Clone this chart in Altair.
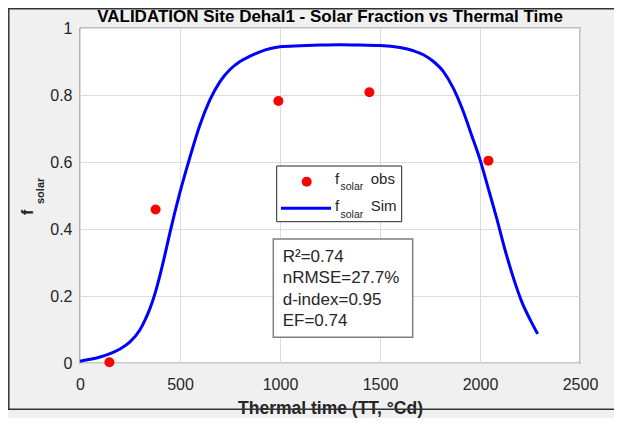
import altair as alt
import pandas as pd

# ---------------- data ----------------
obs_tt = [147, 378, 992, 1447, 2042]
obs_f = [0.002, 0.458, 0.782, 0.808, 0.604]

sim_tt = [0, 50, 100, 150, 200, 250, 300, 325, 350, 375, 400, 425, 450, 475,
          500, 525, 550, 600, 650, 700, 750, 800, 850, 900, 1000, 1100, 1200,
          1300, 1400, 1500, 1600, 1667, 1717, 1767, 1817, 1867, 1917, 1958,
          2000, 2042, 2083, 2125, 2167, 2208, 2250, 2288]
sim_f = [0.005, 0.011, 0.018, 0.028, 0.042, 0.063, 0.099, 0.128, 0.163, 0.207,
         0.262, 0.324, 0.390, 0.452, 0.510, 0.564, 0.615, 0.711, 0.786, 0.840,
         0.876, 0.900, 0.916, 0.929, 0.944, 0.947, 0.949, 0.950, 0.949, 0.948,
         0.942, 0.932, 0.920, 0.900, 0.870, 0.820, 0.750, 0.680, 0.607, 0.520,
         0.433, 0.338, 0.254, 0.184, 0.130, 0.087]

x_ticks = [0, 500, 1000, 1500, 2000, 2500]
y_ticks = [0, 0.2, 0.4, 0.6, 0.8, 1]

title_text = "VALIDATION Site Dehal1 - Solar Fraction vs Thermal Time"
x_title = "Thermal time (TT, \u00b0Cd)"
stats_lines = ["R\u00b2=0.74", "nRMSE=27.7%", "d-index=0.95", "EF=0.74"]

obs_df = pd.DataFrame({"tt": obs_tt, "f": obs_f})
sim_df = pd.DataFrame({"tt": sim_tt, "f": sim_f})
one = pd.DataFrame({"k": [0]})

FONT = "Liberation Sans"
TXT = "#262626"
W, H = 500, 335

xs = alt.Scale(domain=[0, 2500], nice=False)
ys = alt.Scale(domain=[0, 1], nice=False)

x_axis = alt.Axis(values=x_ticks, format="d", ticks=False, domain=False,
                  grid=True, gridColor="#dcdcdc", gridWidth=1,
                  labelFontSize=16, labelColor=TXT, labelFont=FONT,
                  labelPadding=13, labelFlush=False,
                  title=x_title, titleFont=FONT, titleFontSize=17.5,
                  titleFontWeight="bold", titleColor=TXT, titlePadding=7)
y_axis = alt.Axis(values=y_ticks, format="~g", ticks=False, domain=False,
                  grid=True, gridColor="#dcdcdc", gridWidth=1,
                  labelFontSize=16, labelColor=TXT, labelFont=FONT,
                  labelPadding=8, labelFlush=False)

sim_line = alt.Chart(sim_df).mark_line(color="#0000ff", strokeWidth=3,
                                       interpolate="monotone").encode(
    x=alt.X("tt:Q", scale=xs, axis=x_axis),
    y=alt.Y("f:Q", scale=ys, axis=y_axis, title=None),
)
obs_pts = alt.Chart(obs_df).mark_point(filled=True, shape="circle", size=100,
                                       color="#ff0000", opacity=1).encode(
    x=alt.X("tt:Q", scale=xs),
    y=alt.Y("f:Q", scale=ys),
)


def label(text, x, y, size, weight="normal", angle=0, align="left", color=TXT):
    return alt.Chart(one).mark_text(text=text, fontSize=size, fontWeight=weight,
                                    angle=angle, align=align,
                                    baseline="alphabetic", font=FONT,
                                    color=color).encode(
        x=alt.value(x), y=alt.value(y))


def box(x1, x2, y1, y2, stroke, sw):
    return alt.Chart(one).mark_rect(fill="white", stroke=stroke,
                                    strokeWidth=sw).encode(
        x=alt.value(x1), x2=alt.value(x2), y=alt.value(y1), y2=alt.value(y2))


layers = [sim_line, obs_pts]

# title
layers.append(label(title_text, W / 2, -6, 17, "bold", align="center",
                    color="#000000"))
# y-axis title f_solar
layers.append(label("f", -47, 187, 16, "bold", angle=270))
layers.append(label("solar", -36.5, 176, 11, "bold", angle=270))

# legend
layers.append(box(196.7, 321.7, 138, 193.7, "#262626", 1))
layers.append(alt.Chart(one).mark_point(filled=True, shape="circle", size=100,
                                        color="#ff0000", opacity=1).encode(
    x=alt.value(226.7), y=alt.value(153.7)))
layers.append(alt.Chart(one).mark_rule(color="#0000ff", strokeWidth=3).encode(
    x=alt.value(201), x2=alt.value(251), y=alt.value(180.3)))
layers.append(label("f", 255, 156, 15))
layers.append(label("solar", 260.5, 162, 10.5))
layers.append(label("obs", 290.7, 156, 15))
layers.append(label("f", 255, 183, 15))
layers.append(label("solar", 260.5, 190, 10.5))
layers.append(label("Sim", 290.7, 183, 15))

# stats box
layers.append(box(193.3, 332.7, 211, 309.3, "#7f7f7f", 1.5))
for i, s in enumerate(stats_lines):
    layers.append(label(s, 202.7, 233.7 + i * 21.5, 17))

# figure border
layers.append(alt.Chart(one).mark_rule(color="#333333", strokeWidth=1.5).encode(
    x=alt.value(-71.2), y=alt.value(-19.5), y2=alt.value(381.5)))
layers.append(alt.Chart(one).mark_rule(color="#333333", strokeWidth=1.5).encode(
    x=alt.value(-72), x2=alt.value(534), y=alt.value(-19.2)))
layers.append(alt.Chart(one).mark_rule(color="#333333", strokeWidth=1.5).encode(
    x=alt.value(-72), x2=alt.value(534), y=alt.value(381.2)))

chart = alt.layer(*layers).properties(
    width=W, height=H,
    autosize=alt.AutoSizeParams(type="none"),
    padding={"left": 72, "top": 20, "right": 34, "bottom": 55},
).configure(background="#f0f0f0").configure_view(
    fill="white", stroke="#262626", strokeWidth=1.2)

chart.save("out.html", embed_options={"renderer": "svg", "actions": False})
